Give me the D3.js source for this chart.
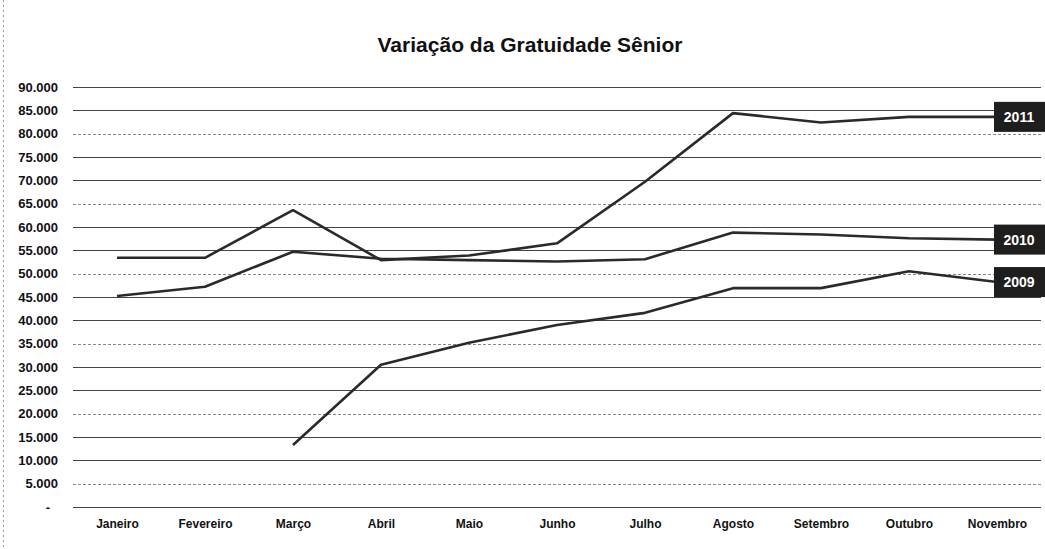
<!DOCTYPE html>
<html>
<head>
<meta charset="utf-8">
<script src="https://cdn.jsdelivr.net/npm/d3@7"></script>
<style>
  html, body { margin: 0; padding: 0; background: #fff; }
  svg { display: block; }
</style>
</head>
<body>
<svg id="chart" width="1045" height="549"></svg>
<script>
// Monthly totals of senior free passes, one series per year
const months = ["Janeiro", "Fevereiro", "Março", "Abril", "Maio", "Junho",
                "Julho", "Agosto", "Setembro", "Outubro", "Novembro"];
const seriesNames = ["2009", "2010", "2011"];
const values2009 = [null, null, 13300, 30500, 35200, 39000, 41600, 46900, 46900, 50500, 48200];
const values2010 = [45200, 47200, 54700, 53200, 52900, 52600, 53100, 58800, 58400, 57600, 57300];
const values2011 = [53400, 53400, 63600, 52900, 53900, 56500, 69700, 84400, 82400, 83600, 83600];
const yTicks = d3.range(0, 90001, 5000);

const svg = d3.select("#chart");
const W = 1045, H = 549;
const margin = { top: 87, right: 4, bottom: 42, left: 73 };

const x = d3.scalePoint()
  .domain(months)
  .range([margin.left, W - margin.right])
  .padding(0.5);

const y = d3.scaleLinear()
  .domain([0, 90000])
  .range([H - margin.bottom, margin.top]);

// chart area frame (left edge)
svg.append("line")
  .attr("x1", 3.5).attr("x2", 3.5)
  .attr("y1", 0).attr("y2", H)
  .attr("stroke", "#999").attr("stroke-dasharray", "2,3");

// title
svg.append("text")
  .attr("x", 530).attr("y", 52)
  .attr("text-anchor", "middle")
  .attr("font-family", "Liberation Sans, Arial, sans-serif")
  .attr("font-weight", "bold")
  .attr("font-size", 21)
  .attr("textLength", 305)
  .attr("lengthAdjust", "spacingAndGlyphs")
  .attr("fill", "#111")
  .text("Variação da Gratuidade Sênior");

// horizontal gridlines
svg.append("g")
  .selectAll("line")
  .data(yTicks)
  .join("line")
  .attr("x1", margin.left).attr("x2", W - margin.right)
  .attr("y1", d => Math.round(y(d)) + 0.5)
  .attr("y2", d => Math.round(y(d)) + 0.5)
  .attr("stroke", (d, i) => (i % 3 === 1 ? "#888" : "#444"))
  .attr("stroke-width", 1)
  .attr("stroke-dasharray", (d, i) => (i % 3 === 1 ? "3,2" : null));

// y axis labels (accounting style: zero shown as a dash)
const fmt = d3.formatLocale({ decimal: ",", thousands: ".", grouping: [3], currency: ["", ""] }).format(",d");
const yAxis = d3.axisLeft(y)
  .tickValues(yTicks)
  .tickSize(0)
  .tickPadding(15)
  .tickFormat(d => (d === 0 ? "-" : fmt(d)));

const gy = svg.append("g")
  .attr("transform", `translate(${margin.left},0)`)
  .call(yAxis);
gy.select(".domain").remove();
gy.selectAll("text")
  .attr("font-family", "Liberation Sans, Arial, sans-serif")
  .attr("font-weight", "bold")
  .attr("font-size", 13)
  .attr("fill", "#111")
  .attr("dx", d => (d === 0 ? -8 : 0));

// x axis labels
const xAxis = d3.axisBottom(x).tickSize(0).tickPadding(12);
const gx = svg.append("g")
  .attr("transform", `translate(0,${H - margin.bottom})`)
  .call(xAxis);
gx.select(".domain").remove();
gx.selectAll("text")
  .attr("font-family", "Liberation Sans, Arial, sans-serif")
  .attr("font-weight", "bold")
  .attr("font-size", 12)
  .attr("fill", "#111");

// series lines
const allSeries = [values2009, values2010, values2011];
const line = d3.line()
  .defined(d => d != null)
  .x((d, i) => x(months[i]))
  .y(d => y(d));

svg.append("g")
  .selectAll("path")
  .data(allSeries)
  .join("path")
  .attr("d", line)
  .attr("fill", "none")
  .attr("stroke", "#2a2a2a")
  .attr("stroke-width", 2.6)
  .attr("stroke-linejoin", "round");

// series name labels at the last month
const last = months.length - 1;
const labels = svg.append("g")
  .selectAll("g")
  .data(allSeries.map((vals, i) => ({ name: seriesNames[i], v: vals[last] })))
  .join("g")
  .attr("transform", d => `translate(${x(months[last]) - 3},${y(d.v)})`);

labels.append("rect")
  .attr("x", 0).attr("y", -15)
  .attr("width", 52).attr("height", 30)
  .attr("fill", "#1e1e1e");

labels.append("text")
  .attr("x", 25).attr("y", 5)
  .attr("text-anchor", "middle")
  .attr("font-family", "Liberation Sans, Arial, sans-serif")
  .attr("font-weight", "bold")
  .attr("font-size", 14)
  .attr("fill", "#fff")
  .text(d => d.name);
</script>
</body>
</html>
